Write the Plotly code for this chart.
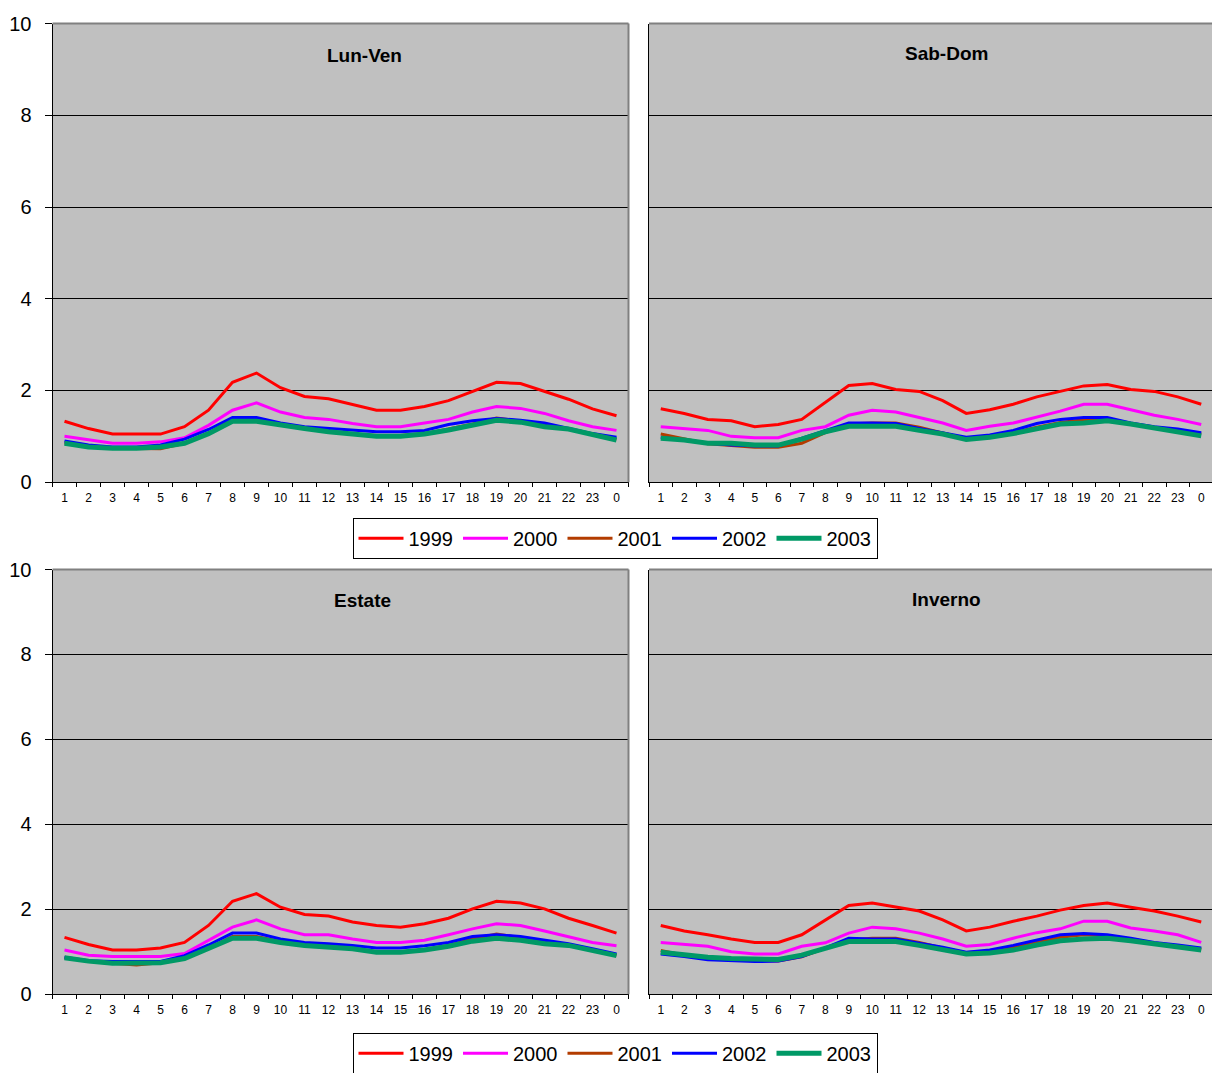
import plotly.graph_objects as go

hours = [str(h) for h in range(1, 24)] + ["0"]
years = ["1999", "2000", "2001", "2002", "2003"]
colors = {"1999": "#FF0000", "2000": "#FF00FF", "2001": "#B33C00", "2002": "#0000FF", "2003": "#009966"}
widths = {"1999": 3, "2000": 3, "2001": 3, "2002": 3, "2003": 5}

lunven = {
    "1999": [1.33, 1.17, 1.05, 1.05, 1.05, 1.21, 1.57, 2.18, 2.38, 2.06, 1.87, 1.82, 1.69, 1.57, 1.57, 1.65, 1.78, 1.98, 2.18, 2.15, 1.98, 1.81, 1.60, 1.45],
    "2000": [1.00, 0.92, 0.85, 0.85, 0.88, 0.97, 1.24, 1.57, 1.73, 1.53, 1.41, 1.37, 1.28, 1.21, 1.21, 1.29, 1.37, 1.53, 1.65, 1.61, 1.50, 1.34, 1.21, 1.13],
    "2001": [0.86, 0.78, 0.74, 0.73, 0.73, 0.85, 1.07, 1.36, 1.36, 1.25, 1.17, 1.10, 1.05, 1.02, 1.02, 1.06, 1.16, 1.27, 1.40, 1.33, 1.24, 1.16, 1.05, 0.94],
    "2002": [0.90, 0.81, 0.77, 0.77, 0.81, 0.94, 1.15, 1.41, 1.41, 1.29, 1.21, 1.17, 1.13, 1.10, 1.10, 1.13, 1.26, 1.34, 1.39, 1.35, 1.29, 1.17, 1.06, 0.98],
    "2003": [0.85, 0.77, 0.74, 0.74, 0.77, 0.85, 1.06, 1.33, 1.33, 1.24, 1.17, 1.10, 1.05, 1.00, 1.00, 1.05, 1.14, 1.24, 1.35, 1.31, 1.21, 1.16, 1.03, 0.92],
}
sabdom = {
    "1999": [1.60, 1.50, 1.37, 1.34, 1.21, 1.26, 1.37, 1.75, 2.11, 2.15, 2.02, 1.98, 1.78, 1.50, 1.58, 1.70, 1.86, 1.98, 2.10, 2.13, 2.02, 1.98, 1.86, 1.70],
    "2000": [1.21, 1.17, 1.13, 1.00, 0.97, 0.97, 1.13, 1.21, 1.46, 1.57, 1.53, 1.41, 1.29, 1.13, 1.22, 1.29, 1.42, 1.55, 1.70, 1.70, 1.58, 1.46, 1.37, 1.26],
    "2001": [1.05, 0.95, 0.84, 0.80, 0.76, 0.76, 0.85, 1.08, 1.27, 1.29, 1.29, 1.20, 1.08, 0.95, 0.98, 1.08, 1.20, 1.30, 1.36, 1.38, 1.28, 1.20, 1.14, 1.05],
    "2002": [0.98, 0.92, 0.85, 0.81, 0.79, 0.79, 0.96, 1.13, 1.29, 1.29, 1.28, 1.17, 1.08, 0.98, 1.03, 1.13, 1.28, 1.37, 1.41, 1.41, 1.29, 1.21, 1.16, 1.08],
    "2003": [0.96, 0.92, 0.85, 0.85, 0.81, 0.81, 0.94, 1.10, 1.22, 1.22, 1.22, 1.13, 1.05, 0.93, 0.98, 1.06, 1.17, 1.27, 1.29, 1.34, 1.27, 1.19, 1.11, 1.01],
}
estate = {
    "1999": [1.34, 1.17, 1.04, 1.04, 1.09, 1.22, 1.62, 2.19, 2.37, 2.05, 1.88, 1.84, 1.70, 1.62, 1.58, 1.66, 1.79, 2.01, 2.19, 2.15, 2.01, 1.79, 1.62, 1.44],
    "2000": [1.04, 0.92, 0.89, 0.89, 0.89, 0.96, 1.27, 1.58, 1.75, 1.54, 1.40, 1.40, 1.30, 1.22, 1.22, 1.27, 1.40, 1.54, 1.66, 1.62, 1.49, 1.36, 1.22, 1.14],
    "2001": [0.86, 0.78, 0.73, 0.69, 0.74, 0.84, 1.08, 1.36, 1.36, 1.24, 1.16, 1.12, 1.08, 1.00, 1.00, 1.05, 1.15, 1.30, 1.42, 1.33, 1.21, 1.15, 1.04, 0.92],
    "2002": [0.87, 0.79, 0.77, 0.77, 0.77, 0.91, 1.16, 1.44, 1.44, 1.30, 1.22, 1.19, 1.15, 1.09, 1.09, 1.14, 1.22, 1.36, 1.40, 1.36, 1.27, 1.19, 1.07, 0.95],
    "2003": [0.86, 0.78, 0.73, 0.73, 0.74, 0.84, 1.07, 1.32, 1.32, 1.22, 1.15, 1.11, 1.07, 0.99, 0.99, 1.04, 1.13, 1.25, 1.32, 1.27, 1.19, 1.15, 1.04, 0.91],
}
inverno = {
    "1999": [1.62, 1.49, 1.40, 1.30, 1.22, 1.22, 1.40, 1.74, 2.09, 2.15, 2.05, 1.96, 1.75, 1.49, 1.58, 1.72, 1.84, 1.98, 2.09, 2.15, 2.05, 1.96, 1.84, 1.70],
    "2000": [1.22, 1.17, 1.13, 1.00, 0.95, 0.95, 1.13, 1.21, 1.44, 1.58, 1.54, 1.44, 1.30, 1.13, 1.17, 1.32, 1.45, 1.54, 1.72, 1.72, 1.56, 1.49, 1.40, 1.22],
    "2001": [1.03, 0.92, 0.85, 0.81, 0.79, 0.78, 0.88, 1.08, 1.28, 1.32, 1.32, 1.22, 1.09, 0.98, 1.00, 1.10, 1.22, 1.34, 1.40, 1.38, 1.30, 1.20, 1.13, 1.06],
    "2002": [0.95, 0.89, 0.81, 0.79, 0.77, 0.78, 0.89, 1.09, 1.32, 1.30, 1.30, 1.20, 1.11, 0.99, 1.04, 1.15, 1.27, 1.40, 1.43, 1.40, 1.32, 1.22, 1.16, 1.09],
    "2003": [0.99, 0.92, 0.87, 0.84, 0.82, 0.82, 0.92, 1.09, 1.24, 1.24, 1.24, 1.15, 1.05, 0.95, 0.97, 1.04, 1.16, 1.26, 1.30, 1.32, 1.26, 1.19, 1.11, 1.04],
}

panels = [
    ("Lun-Ven", lunven, "x", "y", "legend"),
    ("Sab-Dom", sabdom, "x2", "y2", None),
    ("Estate", estate, "x3", "y3", "legend2"),
    ("Inverno", inverno, "x4", "y4", None),
]

W, H = 1220, 1073
# observed rendering: page px = OX + paper*RW ; page py = OY + (1-paper)*RH
OX, RW, OY, RH = 8.0, 1220.0, 18.4, 1053.0


def px(p):
    return (p - OX) / RW


def py(p):
    return 1 - (p - OY) / RH


# pixel boxes in target: (left, right, top, bottom)
boxes = [(52.5, 628.5, 23, 482.5), (649, 1213, 23, 482.5), (52.5, 628.5, 570, 995.5), (649, 1213, 570, 995.5)]

fig = go.Figure()
for (title, data, xa, ya, leg), box in zip(panels, boxes):
    for yr in years:
        kw = dict(x=hours, y=data[yr], mode="lines", name=yr, xaxis=xa, yaxis=ya,
                  line=dict(color=colors[yr], width=widths[yr]), hoverinfo="skip")
        if leg:
            kw.update(showlegend=True, legend=leg)
        else:
            kw.update(showlegend=False)
        fig.add_trace(go.Scatter(**kw))

layout = dict(width=W, height=H, margin=dict(l=0, r=0, t=0, b=0),
              paper_bgcolor="white", plot_bgcolor="#C0C0C0",
              font=dict(family="Liberation Sans, Arial, sans-serif", color="black"))

for i, ((title, data, xa, ya, leg), (l, r, t, b)) in enumerate(zip(panels, boxes)):
    n = "" if i == 0 else str(i + 1)
    xd = [px(l), px(r)]
    yd = [py(b), py(t)]
    layout["xaxis" + n] = dict(domain=xd, type="category", anchor="y" + n,
                               categoryorder="array", categoryarray=hours,
                               tickson="boundaries", ticks="outside", ticklen=4, tickcolor="black",
                               showline=True, linecolor="black", linewidth=1,
                               showgrid=False, zeroline=False, tickfont=dict(size=12),
                               ticklabelstandoff=4,
                               range=[-0.5, 23.5], fixedrange=True)
    left = (i % 2 == 0)
    layout["yaxis" + n] = dict(domain=yd, anchor="x" + n, range=[0, 10], tickvals=[0, 2, 4, 6, 8, 10],
                               showticklabels=left, ticks="outside" if left else "", ticklen=7,
                               tickcolor="black", ticklabelstandoff=9,
                               showline=True, linecolor="black", linewidth=1,
                               showgrid=True, gridcolor="black", gridwidth=1, zeroline=False,
                               tickfont=dict(size=20), fixedrange=True)

fig.update_layout(**layout)

# plot-area top/right borders
for (l, r, t, b) in boxes:
    fig.add_shape(type="line", xref="paper", yref="paper", x0=px(l), x1=px(r), y0=py(t), y1=py(t),
                  line=dict(color="#808080", width=2))
    fig.add_shape(type="line", xref="paper", yref="paper", x0=px(r), x1=px(r), y0=py(t), y1=py(b),
                  line=dict(color="#808080", width=2))

title_pos = [(364, 55), (946, 53), (362, 601), (946, 600)]
for (title, *_), (tx, ty) in zip(panels, title_pos):
    fig.add_annotation(text="<b>" + title + "</b>", x=px(tx), y=py(ty), xref="paper", yref="paper",
                       showarrow=False, font=dict(size=19, color="black"), xanchor="center", yanchor="middle")

legcommon = dict(orientation="h", xanchor="center", yanchor="top", bgcolor="white",
                 bordercolor="black", borderwidth=1, font=dict(size=20), itemwidth=45,
                 tracegroupgap=0)
fig.update_layout(
    legend=dict(x=px(615), y=py(518), **legcommon),
    legend2=dict(x=px(615), y=py(1034), **legcommon),
)

fig.write_html("out.html")
